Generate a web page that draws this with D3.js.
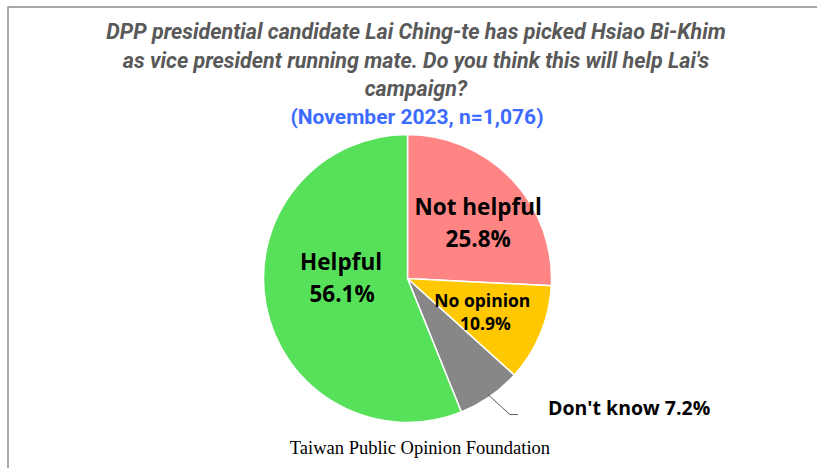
<!DOCTYPE html>
<meta charset='utf-8'>
<html>
  <style>
    body { margin: 0; background: #fff; }
    .title { font-family: Roboto, "Open Sans", sans-serif; font-style: italic; font-weight: bold; font-size: 21.5px; fill: #595959; }
    .sub { font-family: Roboto, "Open Sans", sans-serif; font-weight: bold; font-size: 21px; fill: #3d6bff; }
    .lab { font-family: "Open Sans", sans-serif; font-weight: bold; fill: #000; }
    .foot { font-family: "Liberation Serif", serif; font-size: 18.5px; fill: #000; }
  </style>
  <head>
    <script src="https://cdn.jsdelivr.net/npm/d3@7/dist/d3.min.js"></script>
  </head>
  <body>
    <div id="chart"></div>
    <script>
      var width = 817, height = 468;

      var categories = ["Not helpful", "No opinion", "Don't know", "Helpful"];
      var values = [25.8, 10.9, 7.2, 56.1];
      var colors = ["#ff8585", "#ffc800", "#878787", "#57e05a"];
      var titleLines = [
        "DPP presidential candidate Lai Ching-te has picked Hsiao Bi-Khim",
        "as vice president running mate. Do you think this will help Lai's",
        "campaign?"
      ];
      var subtitle = "(November 2023, n=1,076)";
      var source = "Taiwan Public Opinion Foundation";

      var svg = d3.select("#chart").append("svg")
        .attr("width", width)
        .attr("height", height);

      // frame
      svg.append("path")
        .attr("d", "M8,470 L8,7 L820,7")
        .attr("fill", "none")
        .attr("stroke", "#8c8c8c")
        .attr("stroke-width", 1.5);

      svg.selectAll(".title").data(titleLines).enter().append("text")
        .attr("class", "title")
        .attr("x", 416)
        .attr("y", function(d, i) { return 39 + i * 28.5; })
        .attr("text-anchor", "middle")
        .text(function(d) { return d; });

      svg.append("text").attr("class", "sub")
        .attr("x", 417).attr("y", 124)
        .attr("text-anchor", "middle")
        .text(subtitle);

      var cx = 407.5, cy = 278.5, r = 144;
      var data = categories.map(function(c, i) { return {name: c, value: values[i], color: colors[i]}; });

      var pie = d3.pie().sort(null).value(function(d) { return d.value; });
      var arc = d3.arc().innerRadius(0).outerRadius(r);
      var arcs = pie(data);

      var g = svg.append("g").attr("transform", "translate(" + cx + "," + cy + ")");

      g.selectAll("path.slice").data(arcs).enter().append("path")
        .attr("class", "slice")
        .attr("d", arc)
        .attr("fill", function(d) { return d.data.color; })
        .attr("stroke", "#fff")
        .attr("stroke-width", 1.5);

      // label positions relative to centroid at given radius fraction
      function at(d, f) {
        return d3.arc().innerRadius(r * f).outerRadius(r * f).centroid(d);
      }

      var pNot = at(arcs[0], 0.62);
      var tNot = svg.append("text").attr("class", "lab").attr("text-anchor", "middle").style("font-size", "22.5px");
      tNot.append("tspan").attr("x", cx + pNot[0] + 6).attr("y", cy + pNot[1] - 2).text(categories[0]);
      tNot.append("tspan").attr("x", cx + pNot[0] + 6).attr("y", cy + pNot[1] + 30).text(values[0].toFixed(1) + "%");

      var pHelp = at(arcs[3], 0.47);
      var tHelp = svg.append("text").attr("class", "lab").attr("text-anchor", "middle").style("font-size", "22.5px");
      tHelp.append("tspan").attr("x", cx + pHelp[0]).attr("y", cy + pHelp[1] - 21).text(categories[3]);
      tHelp.append("tspan").attr("x", cx + pHelp[0] + 1).attr("y", cy + pHelp[1] + 11).text(values[3].toFixed(1) + "%");

      var pNo = at(arcs[1], 0.6);
      var tNo = svg.append("text").attr("class", "lab").attr("text-anchor", "middle").style("font-size", "17.5px");
      tNo.append("tspan").attr("x", cx + pNo[0] - 5).attr("y", cy + pNo[1] - 5).text(categories[1]);
      tNo.append("tspan").attr("x", cx + pNo[0] - 2).attr("y", cy + pNo[1] + 18).text(values[1].toFixed(1) + "%");

      // leader line for Don't know
      var pIn = at(arcs[2], 1.0);
      var lx = cx + pIn[0] - 2, ly = cy + pIn[1] - 2;
      svg.append("polyline")
        .attr("points", [[lx, ly], [lx + 22, ly + 20], [lx + 30, ly + 20]].join(" "))
        .attr("fill", "none")
        .attr("stroke", "#595959")
        .attr("stroke-width", 1);

      svg.append("text").attr("class", "lab")
        .attr("x", 548).attr("y", 415)
        .style("font-size", "19.5px")
        .text(categories[2] + " " + values[2].toFixed(1) + "%");

      svg.append("text").attr("class", "foot")
        .attr("x", 420).attr("y", 454)
        .attr("text-anchor", "middle")
        .text(source);
    </script>
  </body>
</html>
